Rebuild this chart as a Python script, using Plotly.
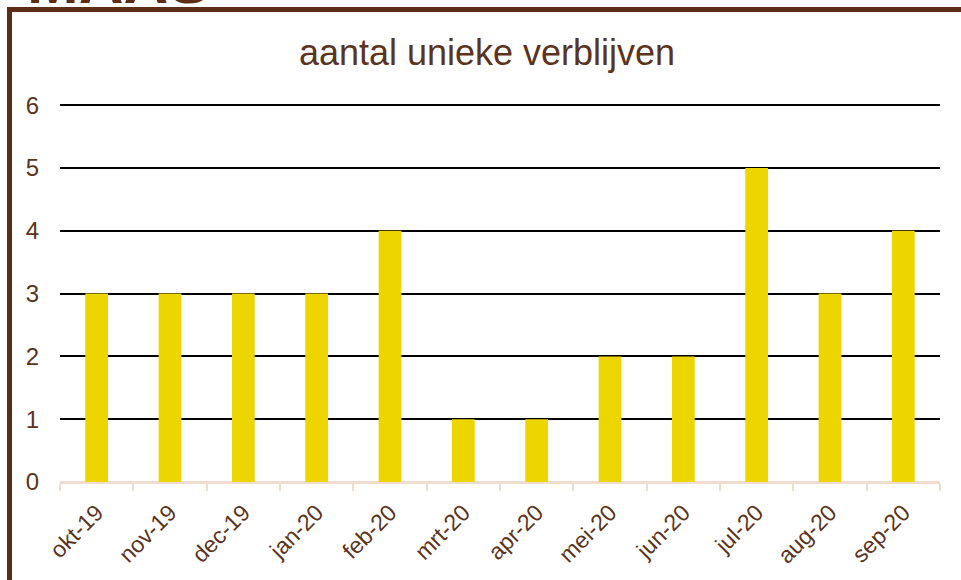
import plotly.graph_objects as go

months = ["okt-19", "nov-19", "dec-19", "jan-20", "feb-20", "mrt-20",
          "apr-20", "mei-20", "jun-20", "jul-20", "aug-20", "sep-20"]
verblijven = [3, 3, 3, 3, 4, 1, 1, 2, 2, 5, 3, 4]
y_ticks = [0, 1, 2, 3, 4, 5, 6]

BROWN = "#5B2D14"
TEXT = "#5A3420"
BAR = "#EDD500"
AXIS = "#F0DCCF"

W, H = 961, 580
L, R, T, B = 60, 21, 102, 98
PW, PH = W - L - R, H - T - B

def px(x):
    return (x - L) / PW

def py(y):
    return (H - B - y) / PH

fig = go.Figure(go.Bar(x=months, y=verblijven, marker=dict(color=BAR, line=dict(width=0))))

fig.update_layout(
    width=W, height=H,
    margin=dict(l=L, r=R, t=T, b=B),
    paper_bgcolor="white", plot_bgcolor="white",
    font=dict(family="Liberation Sans, Arial, sans-serif", color=TEXT),
    bargap=0.69,
    showlegend=False,
    title=dict(text="aantal unieke verblijven", x=487 / W, xref="container", xanchor="center",
               y=1 - 52 / H, yref="container", yanchor="middle",
               font=dict(size=36, color=TEXT)),
    xaxis=dict(type="category", tickangle=-45, tickson="boundaries", ticks="outside",
               ticklen=7, tickwidth=2, tickcolor=AXIS, showline=True, linecolor=AXIS,
               linewidth=2, showgrid=False, ticklabelstandoff=6,
               tickfont=dict(size=23, color=TEXT)),
    yaxis=dict(range=[0, 6.05], tickvals=y_ticks, showgrid=True, gridcolor="black", gridwidth=2,
               zeroline=True, zerolinecolor=AXIS, zerolinewidth=2, ticks="",
               ticklabelstandoff=20, tickfont=dict(size=24, color=TEXT)),
    shapes=[
        dict(type="line", xref="paper", yref="paper",
             x0=px(7), x1=px(961), y0=py(9.5), y1=py(9.5),
             line=dict(color=BROWN, width=5), layer="above"),
        dict(type="line", xref="paper", yref="paper",
             x0=px(9.5), x1=px(9.5), y0=py(7), y1=py(580),
             line=dict(color=BROWN, width=5), layer="above"),
    ],
    annotations=[
        dict(text="<b>MAAS</b>", xref="paper", yref="paper", x=px(25), y=py(18),
             xanchor="left", yanchor="bottom", showarrow=False,
             font=dict(size=62, color=BROWN, family="Liberation Sans, Arial, sans-serif")),
    ],
)

fig.write_html("out.html", config={"displayModeBar": False},
               post_script="document.body.style.margin='0';")
